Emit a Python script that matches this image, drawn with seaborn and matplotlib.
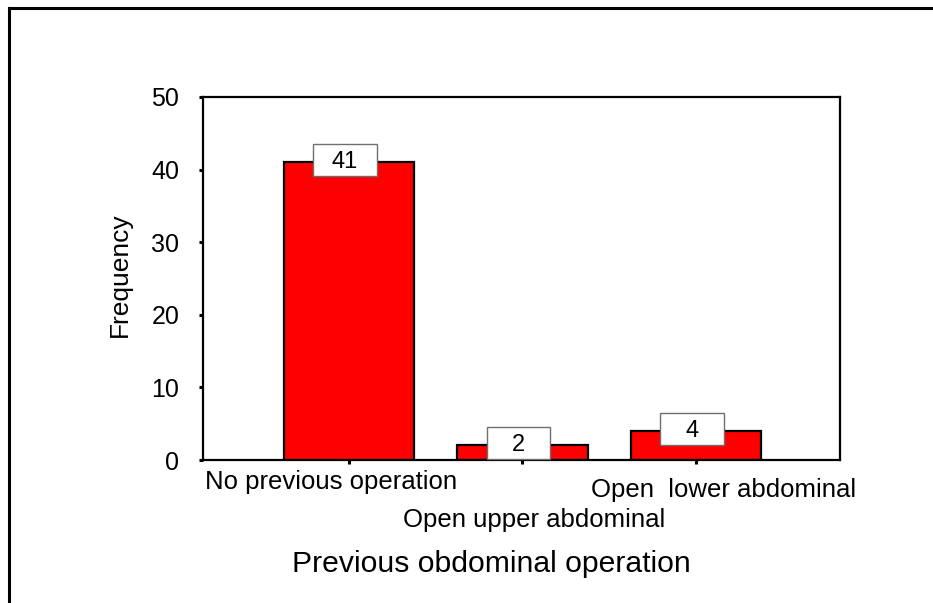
import matplotlib
matplotlib.use("Agg")
import matplotlib.pyplot as plt
from matplotlib.lines import Line2D
from matplotlib.path import Path
import seaborn as sns
import pandas as pd

categories = ["No previous operation", "Open upper abdominal", "Open  lower abdominal"]
frequencies = [41, 2, 4]
y_ticks = [0, 10, 20, 30, 40, 50]
x_title = "Previous obdominal operation"
y_title = "Frequency"

sns.set_style("white")
plt.rcParams["font.family"] = ["Liberation Sans", "DejaVu Sans"]
plt.rcParams["text.color"] = "black"
plt.rcParams["xtick.color"] = "black"
plt.rcParams["ytick.color"] = "black"
plt.rcParams["xtick.labelcolor"] = "black"
plt.rcParams["ytick.labelcolor"] = "black"

df = pd.DataFrame({"cat": categories, "freq": frequencies})

fig = plt.figure(figsize=(9.33, 6.03), dpi=100)
ax = fig.add_axes([203 / 933, 1 - 460 / 603, 637 / 933, 363 / 603])

sns.barplot(data=df, x="cat", y="freq", color="#ff0000", saturation=1,
            edgecolor="black", linewidth=1.6, width=0.75, ax=ax, zorder=2)

ax.set_xlim(-0.8415, 2.830)
ax.set_ylim(0, 50)
ax.set_yticks(y_ticks)
ax.set_yticklabels([str(t) for t in y_ticks], fontsize=18, color="black")
ax.set_xticks(range(len(categories)))
ax.set_xticklabels([""] * len(categories))
ax.set_xlabel("")
ax.set_ylabel("")
ax.tick_params(axis="y", direction="out", length=3, width=2.2, pad=14, color="black", left=True)
ax.tick_params(axis="x", direction="out", length=3, width=2.2, color="black", bottom=True)
for s in ax.spines.values():
    s.set_visible(True)
    s.set_color("black")
    s.set_linewidth(1.6)


def fixed_box(x0, y0, width, height, mutation_size):
    cx = x0 + width / 2
    cy = y0 + height / 2 + 0.1 * mutation_size
    w = 2.71 * mutation_size
    h = 1.36 * mutation_size
    return Path([(cx - w / 2, cy - h / 2), (cx + w / 2, cy - h / 2),
                 (cx + w / 2, cy + h / 2), (cx - w / 2, cy + h / 2),
                 (cx - w / 2, cy - h / 2)],
                [Path.MOVETO, Path.LINETO, Path.LINETO, Path.LINETO, Path.CLOSEPOLY])


for i, v in enumerate(frequencies):
    ax.annotate(str(v), xy=(i, v), xytext=(-4, 0), textcoords="offset pixels",
                ha="center", va="center", fontsize=17, zorder=5, color="black",
                bbox=dict(boxstyle=fixed_box, facecolor="white",
                          edgecolor="#6f6f6f", linewidth=1.0))

label_offsets = [(-18, -29), (12, -67), (28, -37)]
for i, (lab, (dx, dy)) in enumerate(zip(categories, label_offsets)):
    ax.annotate(lab, xy=(i, 0), xycoords=("data", "axes fraction"),
                xytext=(dx, dy), textcoords="offset pixels", color="black",
                ha="center", va="baseline", fontsize=18.5, annotation_clip=False)

fig.text(491.5 / 933, 1 - 572 / 603, x_title, ha="center", va="baseline",
         fontsize=21.7, color="black")
fig.text(120 / 933, 1 - 274.5 / 603, y_title, ha="center", va="center",
         rotation=90, fontsize=19, color="black")

fig.add_artist(Line2D([9 / 933, 9 / 933], [-0.05, 1 - 8 / 603], transform=fig.transFigure,
                      color="black", linewidth=2.2, solid_capstyle="projecting"))
fig.add_artist(Line2D([9 / 933, 1.05], [1 - 8 / 603, 1 - 8 / 603], transform=fig.transFigure,
                      color="black", linewidth=2.2, solid_capstyle="projecting"))

fig.savefig("out.png", dpi=100)
